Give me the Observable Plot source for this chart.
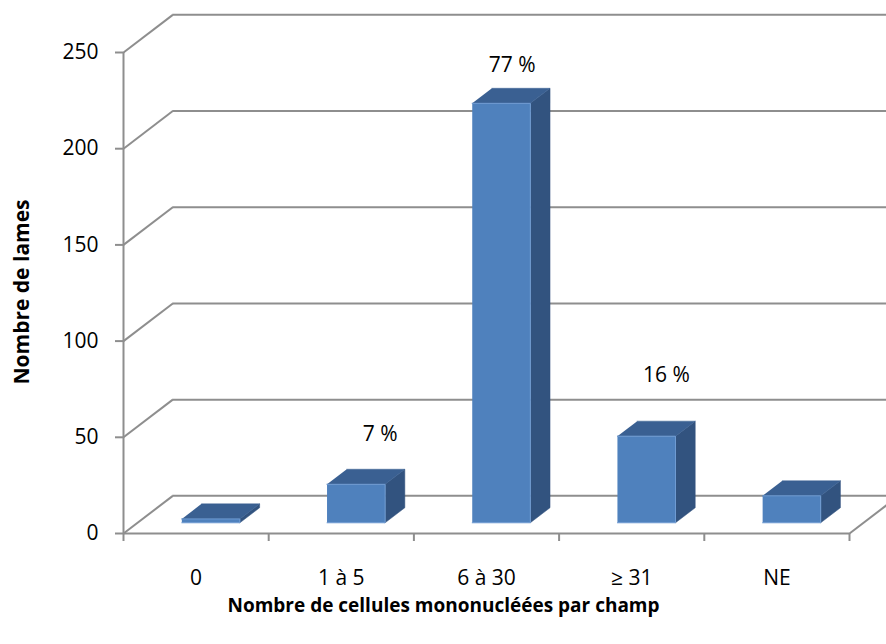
<!DOCTYPE html>
<html><head><meta charset="utf-8">
<script src="https://cdn.jsdelivr.net/npm/d3@7"></script>
<script src="https://cdn.jsdelivr.net/npm/@observablehq/plot@0.6"></script>
<style>body{margin:0;background:#fff;} #chart svg{display:block}</style>
</head><body><div id="chart"></div>
<script>
// ---- data ----
const categories = ["0", "1 à 5", "6 à 30", "≥ 31", "NE"];
const counts = [2, 20, 218, 45, 14];
const percentLabels = ["", "7 %", "77 %", "16 %", ""];
const yTicks = [0, 50, 100, 150, 200, 250];
const yTitle = "Nombre de lames";
const xTitle = "Nombre de cellules mononucléées par champ";

// ---- oblique 3D projection (in data units) ----
const DU = 0.3395, DV = 19.57;    // depth vector
const F0 = 0.285, F1 = 0.685;     // bar depth span
const B0 = 0.305, B1 = 0.705;     // bar span within band
const pt = (u, v, f) => ({x: u + f * DU, y: v + f * DV});

const frontFaces = [], sideFaces = [], topFaces = [];
counts.forEach((c, i) => {
  const L = i + B0, R = i + B1;
  [pt(L,0,F0), pt(R,0,F0), pt(R,c,F0), pt(L,c,F0)].forEach(p => frontFaces.push({...p, id: i}));
  [pt(R,0,F0), pt(R,0,F1), pt(R,c,F1), pt(R,c,F0)].forEach(p => sideFaces.push({...p, id: i}));
  [pt(L,c,F0), pt(R,c,F0), pt(R,c,F1), pt(L,c,F1)].forEach(p => topFaces.push({...p, id: i}));
});

const grid = "#8e8e8e";
const font = "'Open Sans', sans-serif";
// label nudges in px (labels were placed by hand in the original)
const nudges = [[0,0],[24,-50],[11,-38],[20,-61],[0,0]];

const labelMarks = percentLabels.map((t, i) => t ? Plot.text([t], {
  x: i + B0 + (B1 - B0) / 2 + F0 * DU, y: counts[i] + F0 * DV,
  text: d => d, dx: nudges[i][0], dy: nudges[i][1], fontSize: 21, fill: "#000"
}) : null);

const chart = Plot.plot({
  width: 886, height: 644,
  marginLeft: 123, marginRight: 37, marginTop: 52, marginBottom: 111,
  x: {domain: [0, 5], axis: null},
  y: {domain: [0, 250], axis: null},
  style: {fontFamily: font, fontSize: "21px", background: "#fff", color: "#000"},
  marks: [
    Plot.link(yTicks, {x1: 0, y1: d => d, x2: DU, y2: d => d + DV, stroke: grid, strokeWidth: 2}),
    Plot.ruleY(yTicks, {y: d => d + DV, x1: DU, x2: 5 + DU, stroke: grid, strokeWidth: 2}),
    Plot.link([0], {x1: 5, y1: 0, x2: 5 + DU, y2: DV, stroke: grid, strokeWidth: 2}),
    Plot.ruleY([0], {x1: 0, x2: 5, stroke: grid, strokeWidth: 2}),
    Plot.ruleX([0], {y1: 0, y2: 250, stroke: grid, strokeWidth: 2}),
    Plot.axisY(yTicks, {tickSize: 8, tickPadding: 17, stroke: grid, strokeWidth: 2, fill: "#000", label: null, fontSize: 21}),
    Plot.axisX([0, 1, 2, 3, 4, 5], {tickSize: 8, stroke: grid, strokeWidth: 2, fill: "none", label: null}),
    Plot.text(categories, {x: (d, i) => i + 0.5, frameAnchor: "bottom", dy: 51, text: d => d, fontSize: 21}),
    Plot.line(sideFaces, {x: "x", y: "y", z: "id", fill: "#32537f", stroke: "#32537f", strokeWidth: 0.5, curve: "linear"}),
    Plot.line(topFaces, {x: "x", y: "y", z: "id", fill: "#3a6092", stroke: "#3a6092", strokeWidth: 0.5, curve: "linear"}),
    Plot.line(frontFaces, {x: "x", y: "y", z: "id", fill: "#4f81bd", stroke: "#6f9bd2", strokeWidth: 1, curve: "linear"}),
    ...labelMarks.filter(Boolean),
    Plot.text([xTitle], {frameAnchor: "bottom", dx: -43, dy: 78, text: d => d, fontWeight: "bold", fontSize: 19}),
    Plot.text([yTitle], {frameAnchor: "left", dx: -101, dy: -1, rotate: -90, textAnchor: "middle", text: d => d, fontWeight: "bold", fontSize: 21})
  ]
});
document.getElementById("chart").appendChild(chart);
</script>
</body></html>
